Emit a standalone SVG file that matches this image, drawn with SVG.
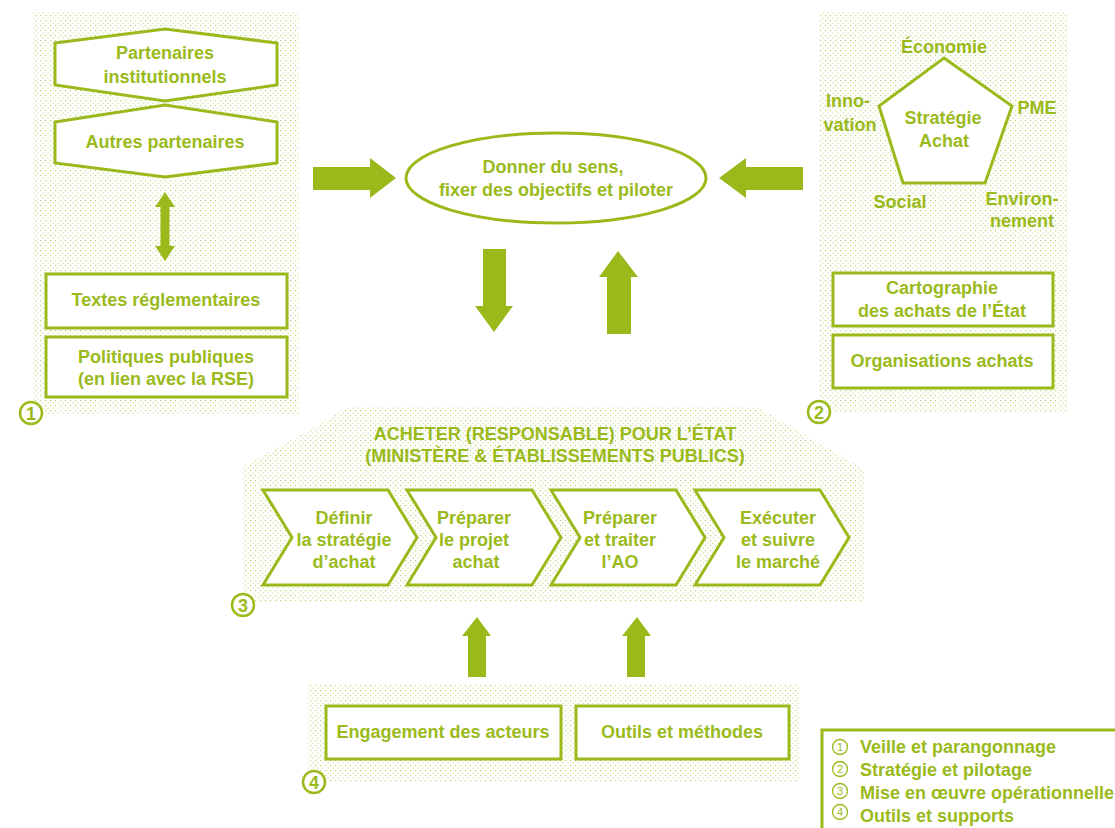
<svg xmlns="http://www.w3.org/2000/svg" width="1115" height="828" viewBox="0 0 1115 828">
<defs>
<pattern id="dots" width="5" height="5" patternUnits="userSpaceOnUse">
<rect x="0" y="0" width="1.2" height="1.2" fill="#bcd46c"/>
<rect x="2.5" y="2.5" width="1.2" height="1.2" fill="#cfe095"/>
</pattern>
<style>
.t{font-family:"Liberation Sans",Arial,sans-serif;font-weight:bold;font-size:18px;fill:#9aba1c;text-anchor:middle}
.box{fill:#fff;stroke:#9aba1c;stroke-width:3}
.bg{fill:url(#dots)}
.arr{fill:#9aba1c}
.num{fill:#fff;stroke:#9aba1c;stroke-width:2.5}
.nt{font-family:"Liberation Sans",Arial,sans-serif;font-weight:bold;font-size:18px;fill:#9aba1c;text-anchor:middle}
.lg{font-family:"Liberation Sans",Arial,sans-serif;font-weight:bold;font-size:18px;fill:#9aba1c}
.lcc{fill:none;stroke:#9aba1c;stroke-width:1.3}
.lct{font-family:"Liberation Sans",Arial,sans-serif;font-size:11px;fill:#9aba1c;text-anchor:middle}
</style>
</defs>
<rect width="1115" height="828" fill="#fff"/>

<g id="panel1">
<rect class="bg" x="33" y="12" width="267" height="403"/>
<g id="partenaires-institutionnels">
<polygon class="box" points="55,43 165,29 277,43 277,85 165,101 55,85"/>
<text class="t" x="165" y="59">Partenaires</text>
<text class="t" x="165" y="83">institutionnels</text>
</g>
<g id="autres-partenaires">
<polygon class="box" points="55,122 165,105 277,122 277,163 165,177 55,163"/>
<text class="t" x="165" y="148">Autres partenaires</text>
</g>
<g id="textes">
<rect class="box" x="46" y="274" width="241" height="54"/>
<text class="t" x="166" y="306">Textes réglementaires</text>
</g>
<g id="politiques">
<rect class="box" x="46" y="337" width="241" height="60"/>
<text class="t" x="166" y="363">Politiques publiques</text>
<text class="t" x="166" y="385">(en lien avec la RSE)</text>
</g>
<g id="label1"><circle class="num" cx="31" cy="413" r="11"/><text class="nt" x="31" y="419.5">1</text></g>
</g>

<g id="panel2">
<rect class="bg" x="819" y="12" width="249" height="401"/>
<g id="strategie">
<polygon class="box" points="944,58 1012,106 985,183 903,183 879,106"/>
<text class="t" x="943" y="124">Stratégie</text>
<text class="t" x="944" y="147">Achat</text>
<text class="t" x="944" y="53">Économie</text>
<text class="t" x="1037" y="114">PME</text>
<text class="t" x="848" y="107">Inno-</text>
<text class="t" x="850" y="131">vation</text>
<text class="t" x="900" y="208">Social</text>
<text class="t" x="1022" y="205">Environ-</text>
<text class="t" x="1022" y="227">nement</text>
</g>
<g id="cartographie">
<rect class="box" x="833" y="273" width="220" height="53"/>
<text class="t" x="942" y="294">Cartographie</text>
<text class="t" x="942" y="317">des achats de l’État</text>
</g>
<g id="organisations">
<rect class="box" x="833" y="335" width="220" height="53"/>
<text class="t" x="942" y="367">Organisations achats</text>
</g>
<g id="label2"><circle class="num" cx="819" cy="412" r="11"/><text class="nt" x="819" y="418.5">2</text></g>
</g>

<g id="pilotage">
<ellipse class="box" cx="556" cy="178" rx="150" ry="45"/>
<text class="t" x="553" y="173">Donner du sens,</text>
<text class="t" x="556" y="196">fixer des objectifs et piloter</text>
</g>

<g id="panel3">
<polygon class="bg" points="243,467 350,407 757,407 865,470 865,602 243,602"/>
<text class="t" x="555" y="440">ACHETER (RESPONSABLE) POUR L’ÉTAT</text>
<text class="t" x="555" y="462">(MINISTÈRE &amp; ÉTABLISSEMENTS PUBLICS)</text>
<g id="etape1">
<polygon class="box" points="263,490 388,490 417,537.5 388,585 263,585 292,537.5"/>
<text class="t" x="344" y="524">Définir</text>
<text class="t" x="344" y="546">la stratégie</text>
<text class="t" x="344" y="568">d’achat</text>
</g>
<g id="etape2">
<polygon class="box" points="407,490 532,490 561,537.5 532,585 407,585 436,537.5"/>
<text class="t" x="474" y="524">Préparer</text>
<text class="t" x="474" y="546">le projet</text>
<text class="t" x="476" y="568">achat</text>
</g>
<g id="etape3">
<polygon class="box" points="551,490 676,490 705,537.5 676,585 551,585 580,537.5"/>
<text class="t" x="620" y="524">Préparer</text>
<text class="t" x="620" y="546">et traiter</text>
<text class="t" x="620" y="568">l’AO</text>
</g>
<g id="etape4">
<polygon class="box" points="695,490 820,490 849,537.5 820,585 695,585 724,537.5"/>
<text class="t" x="778" y="524">Exécuter</text>
<text class="t" x="778" y="546">et suivre</text>
<text class="t" x="778" y="568">le marché</text>
</g>
<g id="label3"><circle class="num" cx="243" cy="605" r="11"/><text class="nt" x="243" y="611.5">3</text></g>
</g>

<g id="panel4">
<rect class="bg" x="308" y="685" width="492" height="97"/>
<g id="engagement">
<rect class="box" x="326" y="706" width="235" height="53"/>
<text class="t" x="443" y="738">Engagement des acteurs</text>
</g>
<g id="outils">
<rect class="box" x="576" y="706" width="213" height="53"/>
<text class="t" x="682" y="738">Outils et méthodes</text>
</g>
<g id="label4"><circle class="num" cx="314" cy="782" r="11"/><text class="nt" x="314" y="788.5">4</text></g>
</g>

<g id="connectors">
<polygon class="arr" points="165,192 175,207 169.5,207 169.5,246 175,246 165,261 155,246 160.5,246 160.5,207 155,207"/>
<polygon class="arr" points="313,167 370,167 370,158 396,178 370,198 370,190 313,190"/>
<polygon class="arr" points="803,167 746,167 746,158 719,178 746,198 746,190 803,190"/>
<polygon class="arr" points="483,249 506,249 506,306 513,306 494,332 475,306 483,306"/>
<polygon class="arr" points="618,251 638,277 631,277 631,334 607,334 607,277 599,277"/>
<polygon class="arr" points="477,617 491,636 486,636 486,677 468,677 468,636 462,636"/>
<polygon class="arr" points="637,617 651,636 645,636 645,677 627,677 627,636 622,636"/>
</g>

<g id="legende">
<rect x="822" y="730" width="300" height="110" fill="#fff" stroke="#9aba1c" stroke-width="3"/>
<circle class="lcc" cx="840" cy="747" r="7.5"/><text class="lct" x="840" y="751">1</text>
<circle class="lcc" cx="840" cy="769" r="7.5"/><text class="lct" x="840" y="773">2</text>
<circle class="lcc" cx="840" cy="791" r="7.5"/><text class="lct" x="840" y="795">3</text>
<circle class="lcc" cx="840" cy="812" r="7.5"/><text class="lct" x="840" y="816">4</text>
<text class="lg" x="860" y="753">Veille et parangonnage</text>
<text class="lg" x="860" y="776">Stratégie et pilotage</text>
<text class="lg" x="860" y="799">Mise en œuvre opérationnelle</text>
<text class="lg" x="860" y="822">Outils et supports</text>
</g>
</svg>
